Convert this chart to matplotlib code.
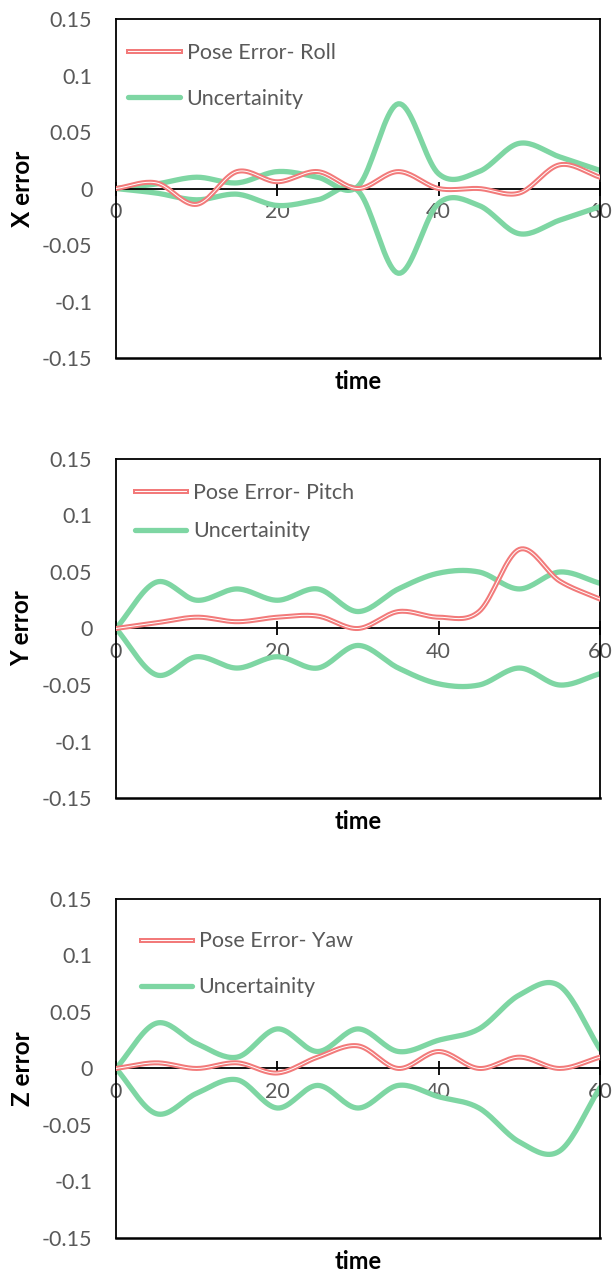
import numpy as np
import matplotlib
matplotlib.use("Agg")
import matplotlib.pyplot as plt
from matplotlib.legend_handler import HandlerTuple

plt.rcParams['font.family'] = ['Lato', 'DejaVu Sans']

# data, sampled every 5 time units
time = [0, 5, 10, 15, 20, 25, 30, 35, 40, 45, 50, 55, 60]

roll_err = [0, 0.005, -0.014, 0.015, 0.006, 0.015, 0, 0.015, 0, 0, -0.004, 0.021, 0.01]
roll_unc = [0, 0.004, 0.01, 0.005, 0.015, 0.01, 0.002, 0.075, 0.013, 0.015, 0.04, 0.028, 0.016]

pitch_err = [0, 0.005, 0.01, 0.006, 0.01, 0.011, 0, 0.015, 0.01, 0.015, 0.07, 0.042, 0.026]
pitch_unc = [0, 0.041, 0.025, 0.035, 0.025, 0.035, 0.015, 0.035, 0.049, 0.05, 0.035, 0.05, 0.04]

yaw_err = [0, 0.005, 0, 0.005, -0.004, 0.01, 0.02, 0, 0.015, 0, 0.01, 0, 0.01]
yaw_unc = [0, 0.04, 0.022, 0.01, 0.035, 0.015, 0.035, 0.015, 0.025, 0.035, 0.065, 0.073, 0.017]

y_ticks = [-0.15, -0.1, -0.05, 0, 0.05, 0.1, 0.15]
y_tick_labels = ["-0.15", "-0.1", "-0.05", "0", "0.05", "0.1", "0.15"]
x_ticks = [0, 20, 40, 60]

panels = [
    ("X error", "Pose Error- Roll", roll_err, roll_unc),
    ("Y error", "Pose Error- Pitch", pitch_err, pitch_unc),
    ("Z error", "Pose Error- Yaw", yaw_err, yaw_unc),
]

RED = "#F27A7A"
GREEN = "#7ED6A3"
GREY = "#595959"


def smooth(x, y, n=20):
    # catmull-rom, like excel's smoothed line
    x = np.asarray(x, float)
    y = np.asarray(y, float)
    px = np.concatenate([[2 * x[0] - x[1]], x, [2 * x[-1] - x[-2]]])
    py = np.concatenate([[2 * y[0] - y[1]], y, [2 * y[-1] - y[-2]]])
    xs, ys = [], []
    t = np.linspace(0, 1, n, endpoint=False)
    for i in range(1, len(px) - 2):
        for p, out in ((px, xs), (py, ys)):
            p0, p1, p2, p3 = p[i - 1], p[i], p[i + 1], p[i + 2]
            out.append(0.5 * (2 * p1 + (-p0 + p2) * t
                              + (2 * p0 - 5 * p1 + 4 * p2 - p3) * t ** 2
                              + (-p0 + 3 * p1 - 3 * p2 + p3) * t ** 3))
    xs.append([x[-1]])
    ys.append([y[-1]])
    return np.concatenate(xs), np.concatenate(ys)


fig = plt.figure(figsize=(6.13, 12.76), dpi=100)
bottoms = [0.7194, 0.3746, 0.0298]
leg_x = [0.008, 0.021, 0.033]
leg_y = [0.955, 0.955, 0.93]
leg_sp = [1.2, 0.85, 1.2]

for k, (ylab, name, err, unc) in enumerate(panels):
    ax = fig.add_axes([0.1892, bottoms[k], 0.7896, 0.2657])

    sx, su = smooth(time, unc)
    g1, = ax.plot(sx, su, color=GREEN, lw=3.8, solid_capstyle='round')
    ax.plot(sx, -su, color=GREEN, lw=3.8, solid_capstyle='round')

    ex, ey = smooth(time, err)
    r1, = ax.plot(ex, ey, color=RED, lw=3.6, zorder=3)
    r2, = ax.plot(ex, ey, color="white", lw=0.7, zorder=3)

    ax.set_xlim(0, 60)
    ax.set_ylim(-0.15, 0.15)
    ax.set_xticks(x_ticks)
    ax.set_yticks(y_ticks)
    ax.set_yticklabels(y_tick_labels)

    for s in ax.spines.values():
        s.set_linewidth(1.3)
        s.set_color("black")
    ax.spines['bottom'].set_position(('data', 0))
    ax.spines['bottom'].set_zorder(2.5)
    ax.plot([0, 1], [0, 0], transform=ax.transAxes, color="black", lw=1.8,
            clip_on=False)

    ax.tick_params(axis='x', direction='inout', length=10, width=1.3,
                   labelsize=15.5, labelcolor=GREY, pad=5)
    ax.tick_params(axis='y', length=0, labelsize=15.5, labelcolor=GREY, pad=17)

    ax.set_ylabel(ylab, fontsize=17.5, fontweight='bold', labelpad=6)
    ax.set_xlabel("time", fontsize=17, fontweight='bold', labelpad=0)
    ax.xaxis.set_label_coords(0.5, -0.035)

    ax.legend([(r1, r2), g1], [name, "Uncertainity"],
              handler_map={tuple: HandlerTuple(ndivide=1)},
              loc='upper left', bbox_to_anchor=(leg_x[k], leg_y[k]),
              frameon=False, fontsize=15.5, labelcolor=GREY,
              handlelength=2.4, handletextpad=0.3, labelspacing=leg_sp[k],
              borderaxespad=0)

fig.savefig("out.png", dpi=100)
